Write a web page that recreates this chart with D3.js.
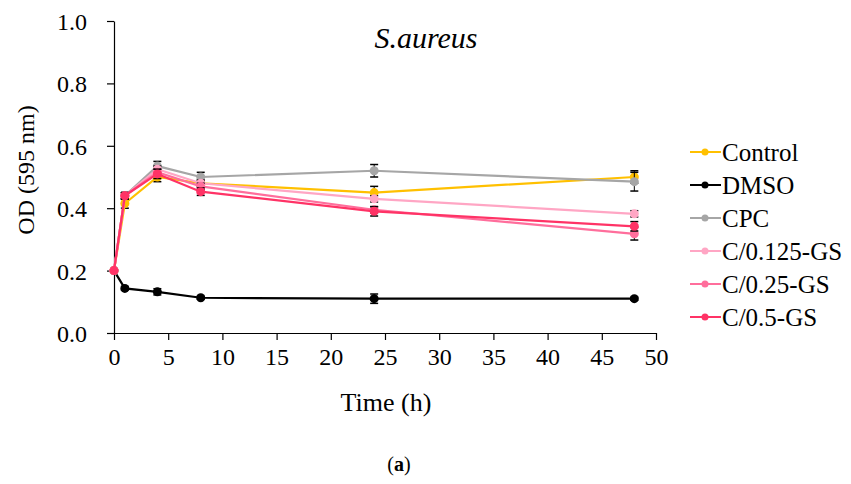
<!DOCTYPE html>
<html><head><meta charset="utf-8">
<script src="https://cdn.jsdelivr.net/npm/d3@7"></script>
<style>body{margin:0;background:#fff}svg{display:block}</style>
</head><body><svg id="c" width="851" height="484"></svg>
<script>
const times = [0, 1, 4, 8, 24, 48];
const seriesNames = ["Control", "DMSO", "CPC", "C/0.125-GS", "C/0.25-GS", "C/0.5-GS"];
const seriesColors = ["#FFC000", "#000000", "#A6A6A6", "#FFA6C4", "#FF6E9C", "#FF3366"];
const controlVals = [0.20, 0.415, 0.50, 0.48, 0.45, 0.50];
const dmsoVals    = [0.20, 0.143, 0.132, 0.113, 0.110, 0.110];
const cpcVals     = [0.20, 0.44, 0.535, 0.50, 0.52, 0.485];
const c0125Vals   = [0.20, 0.44, 0.525, 0.48, 0.43, 0.382];
const c025Vals    = [0.20, 0.44, 0.515, 0.47, 0.395, 0.318];
const c05Vals     = [0.20, 0.44, 0.51, 0.453, 0.390, 0.342];
const controlErr = [0, 0.015, 0.015, 0.01, 0.02, 0.02];
const dmsoErr    = [0, 0.005, 0.01, 0.005, 0.015, 0.005];
const cpcErr     = [0, 0.01, 0.015, 0.015, 0.02, 0.03];
const c0125Err   = [0, 0.01, 0.01, 0.01, 0.01, 0.01];
const c025Err    = [0, 0.01, 0.01, 0.01, 0.01, 0.02];
const c05Err     = [0, 0.01, 0.015, 0.012, 0.015, 0.015];
const xTicks = [0,5,10,15,20,25,30,35,40,45,50];
const yTicks = [0,0.2,0.4,0.6,0.8,1.0];

const FONT = "'Liberation Serif', Tinos, 'DejaVu Serif', 'Times New Roman', serif";
const allVals = [controlVals, dmsoVals, cpcVals, c0125Vals, c025Vals, c05Vals];
const allErr = [controlErr, dmsoErr, cpcErr, c0125Err, c025Err, c05Err];

const svg = d3.select("#c");
const x = d3.scaleLinear().domain([0,50]).range([114,656]);
const y = d3.scaleLinear().domain([0,1]).range([333,21]);

const xAxis = svg.append("g").attr("transform","translate(0,333)")
  .call(d3.axisBottom(x).tickValues(xTicks).tickSize(7).tickSizeOuter(0).tickPadding(6));
const yAxis = svg.append("g").attr("transform","translate(114,0)")
  .call(d3.axisLeft(y).tickValues(yTicks).tickFormat(d3.format(".1f")).tickSize(7).tickSizeOuter(0).tickPadding(20));
[xAxis,yAxis].forEach(a=>{
  a.attr("font-family", FONT).attr("font-size", 24);
  a.selectAll("path,line").attr("stroke","#000").attr("stroke-width",1.2);
  a.selectAll("text").attr("fill","#000");
});
yAxis.selectAll("text").attr("dy","0.35em");
xAxis.selectAll("text").attr("dy","0.8em");

const line = d3.line().x(d=>x(d[0])).y(d=>y(d[1]));
const order = [1,0,2,3,4,5];
order.forEach(i=>{
  const pts = times.map((t,j)=>[t, allVals[i][j], allErr[i][j]]);
  const g = svg.append("g");
  g.selectAll("g.err").data(pts.filter(p=>p[2]>0)).join("g").each(function(p){
    const s = d3.select(this);
    s.append("line").attr("x1",x(p[0])).attr("x2",x(p[0])).attr("y1",y(p[1]-p[2])).attr("y2",y(p[1]+p[2])).attr("stroke","#000").attr("stroke-width",1);
    [p[1]-p[2],p[1]+p[2]].forEach(v=>s.append("line").attr("x1",x(p[0])-4).attr("x2",x(p[0])+4).attr("y1",y(v)).attr("y2",y(v)).attr("stroke","#000").attr("stroke-width",1.5));
  });
  g.append("path").datum(pts).attr("d",line).attr("fill","none").attr("stroke",seriesColors[i]).attr("stroke-width",2.2);
  g.selectAll("circle").data(pts).join("circle").attr("cx",p=>x(p[0])).attr("cy",p=>y(p[1])).attr("r",4.5).attr("fill",seriesColors[i]);
});

svg.append("text").attr("x",426).attr("y",48).attr("text-anchor","middle").attr("font-family",FONT).attr("font-size",30).attr("font-style","italic").text("S.aureus");
svg.append("text").attr("x",386).attr("y",411).attr("text-anchor","middle").attr("font-family",FONT).attr("font-size",26).text("Time (h)");
svg.append("text").attr("transform","translate(34,170) rotate(-90)").attr("text-anchor","middle").attr("font-family",FONT).attr("font-size",24).text("OD (595 nm)");
const pl = svg.append("text").attr("x",399).attr("y",471).attr("text-anchor","middle").attr("font-family",FONT).attr("font-size",20);
pl.append("tspan").text("(");
pl.append("tspan").attr("font-weight","bold").text("a");
pl.append("tspan").text(")");

const leg = svg.append("g").attr("font-family",FONT);
seriesNames.forEach((n,i)=>{
  const yy = 152 + i*33;
  leg.append("line").attr("x1",690).attr("x2",721).attr("y1",yy).attr("y2",yy).attr("stroke",seriesColors[i]).attr("stroke-width",2);
  leg.append("circle").attr("cx",705).attr("cy",yy).attr("r",3.5).attr("fill",seriesColors[i]);
  leg.append("text").attr("x",722).attr("y",yy).attr("dy","0.35em").attr("font-size",25).text(n);
});
</script></body></html>
